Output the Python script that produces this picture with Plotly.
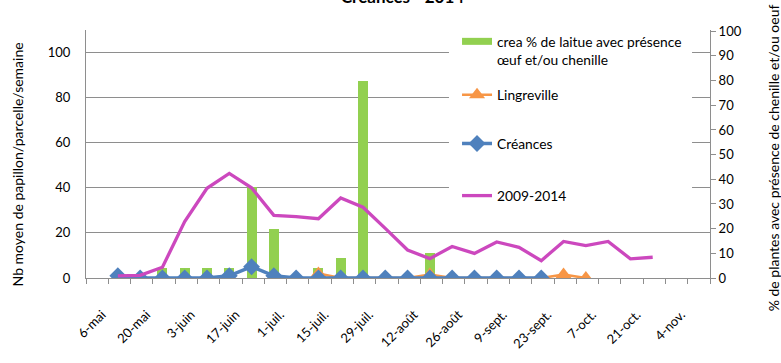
import plotly.graph_objects as go

# Weekly sampling dates (2014)
semaines = [
    "2014-05-16", "2014-05-23", "2014-05-30", "2014-06-06", "2014-06-13",
    "2014-06-20", "2014-06-27", "2014-07-04", "2014-07-11", "2014-07-18",
    "2014-07-25", "2014-08-01", "2014-08-08", "2014-08-15", "2014-08-22",
    "2014-08-29", "2014-09-05", "2014-09-12", "2014-09-19", "2014-09-26",
    "2014-10-03", "2014-10-10", "2014-10-17", "2014-10-24", "2014-10-31",
]

# Mean number of moths per plot per week (left axis)
moyenne_2009_2014 = [0.9, 1.2, 4.8, 25, 39.8, 46.4, 40, 27.8, 27.2, 26.3,
                     35.5, 31.4, 22, 12.4, 8.6, 14, 10.9, 16, 13.6, 7.7,
                     16.2, 14.4, 16.2, 8.5, 9.2]
creances = [1, 0, 0, 0, 0, 1, 5, 1, 0, 0,
            0, 0, 0, 0, 0, 0, 0, 0, 0, 0,
            None, None, None, None, None]
lingreville = [None, None, None, None, None, None, None, None, None, 2,
               0, 0, 0, 0, 1.5, 0, 0, 0, 0, 0,
               1.5, 0, None, None, None]

# % of lettuces with eggs and/or caterpillars (right axis)
crea_pct = [None, None, 4.2, 4.2, 4.2, 4.2, 37, 20, None, 4.2,
            8.3, 80, None, None, 10, None, None, None, None, None,
            None, None, None, None, None]

# Axis labels
tick_dates = ["2014-05-06", "2014-05-20", "2014-06-03", "2014-06-17", "2014-07-01",
              "2014-07-15", "2014-07-29", "2014-08-12", "2014-08-26", "2014-09-09",
              "2014-09-23", "2014-10-07", "2014-10-21", "2014-11-04"]
tick_labels = ["6-mai", "20-mai", "3-juin", "17-juin", "1-juil.", "15-juil.",
               "29-juil.", "12-août", "26-août", "9-sept.", "23-sept.",
               "7-oct.", "21-oct.", "4-nov."]
left_ticks = [0, 20, 40, 60, 80, 100]

VERT = "#92D050"
ORANGE = "#F79646"
BLEU = "#4F81BD"
MAGENTA = "#CC48BE"
GRIS = "#8E8E8E"
FONT = "Lato"
DAY_MS = 86400000

fig = go.Figure()

# Bars on the primary (right-hand) axis so the lines are drawn over them
fig.add_trace(go.Bar(
    x=semaines, y=crea_pct, yaxis="y", marker_color=VERT, marker_line_width=0,
    width=3.14 * DAY_MS, showlegend=False,
    name="crea % de laitue avec présence œuf et/ou chenille",
))
# Legend swatch for the bar series (wide flat rectangle)
fig.add_trace(go.Scatter(
    x=[None], y=[None], yaxis="y2", mode="lines",
    line=dict(color=VERT, width=7),
    name="crea % de laitue avec présence<br>œuf et/ou chenille", legend="legend",
))
fig.add_trace(go.Scatter(
    x=semaines, y=lingreville, yaxis="y2", mode="lines+markers",
    line=dict(color=ORANGE, width=2.5),
    marker=dict(symbol="triangle-up", size=14, color=ORANGE),
    name="Lingreville", legend="legend2",
))
fig.add_trace(go.Scatter(
    x=semaines, y=creances, yaxis="y2", mode="lines+markers",
    line=dict(color=BLEU, width=3.5),
    marker=dict(symbol="diamond", size=13, color=BLEU),
    name="Créances", legend="legend3",
))
fig.add_trace(go.Scatter(
    x=semaines, y=moyenne_2009_2014, yaxis="y2", mode="lines",
    line=dict(color=MAGENTA, width=3.3),
    name="2009-2014", legend="legend4",
))

tick_font = dict(family=FONT, size=13, color="#000000")
legend_font = dict(family=FONT, size=13.8, color="#000000")
title_font = dict(family=FONT, size=14, color="#000000")

def leg(y, valign="middle"):
    return dict(x=0.5946, xanchor="left", y=y, yanchor="middle",
                bgcolor="rgba(0,0,0,0)", borderwidth=0, font=legend_font,
                valign=valign)

fig.update_layout(
    width=781, height=363,
    margin=dict(l=86, r=71, t=30, b=47),
    paper_bgcolor="white", plot_bgcolor="white",
    bargap=0,
    title=dict(text="<b>Créances - 2014</b>", x=402.5 / 781, xanchor="center",
               xref="container", yref="container", y=1 - 3 / 363, yanchor="bottom",
               font=dict(family=FONT, size=17, color="#000000")),
    xaxis=dict(
        type="date", range=["2014-05-06", "2014-11-18"],
        tickmode="array", tickvals=tick_dates, ticktext=tick_labels,
        tickangle=-45, tickfont=tick_font,
        ticklabelshift=16, ticklabelstandoff=18,
        ticks="outside", ticklen=5, tickcolor=GRIS,
        showline=True, linecolor=GRIS, linewidth=1, showgrid=False, zeroline=False,
        minor=dict(ticks="outside", ticklen=5, tickcolor=GRIS,
                   tick0="2014-05-06", dtick=7 * DAY_MS, showgrid=False),
    ),
    yaxis=dict(
        side="right", range=[0, 100.5], dtick=10, tickfont=tick_font,
        ticks="outside", ticklen=5, tickcolor=GRIS,
        showline=True, linecolor=GRIS, showgrid=False, zeroline=False,
    ),
    yaxis2=dict(
        overlaying="y", side="left", range=[0, 110],
        tickmode="array", tickvals=left_ticks, tickfont=tick_font,
        ticks="", ticklabelstandoff=12,
        showline=True, linecolor=GRIS, showgrid=True, gridcolor=GRIS, gridwidth=1,
        zeroline=False,
    ),
    legend=leg((316 - 53.5) / 286, valign="top"),
    legend2=leg((316 - 104.6) / 286),
    legend3=leg((316 - 160.9) / 286),
    legend4=leg((316 - 221.0) / 286),
    shapes=[dict(type="rect", xref="paper", yref="paper",
                 x0=0.5817, x1=0.9712, y0=0.317, y1=0.97,
                 fillcolor="white", line=dict(width=0), layer="above")],
    annotations=[
        dict(text="Nb moyen de papillon/parcelle/semaine", textangle=-90,
             xref="paper", yref="paper", x=(17 - 86) / 624, y=(316 - 185) / 286,
             xanchor="center", yanchor="middle", showarrow=False, font=title_font),
        dict(text="% de plantes avec présence de chenille et/ou oeuf", textangle=-90,
             xref="paper", yref="paper", x=(773 - 86) / 624, y=(316 - 178) / 286,
             xanchor="center", yanchor="middle", showarrow=False, font=title_font),
    ],
)

fig.write_html("out.html")
